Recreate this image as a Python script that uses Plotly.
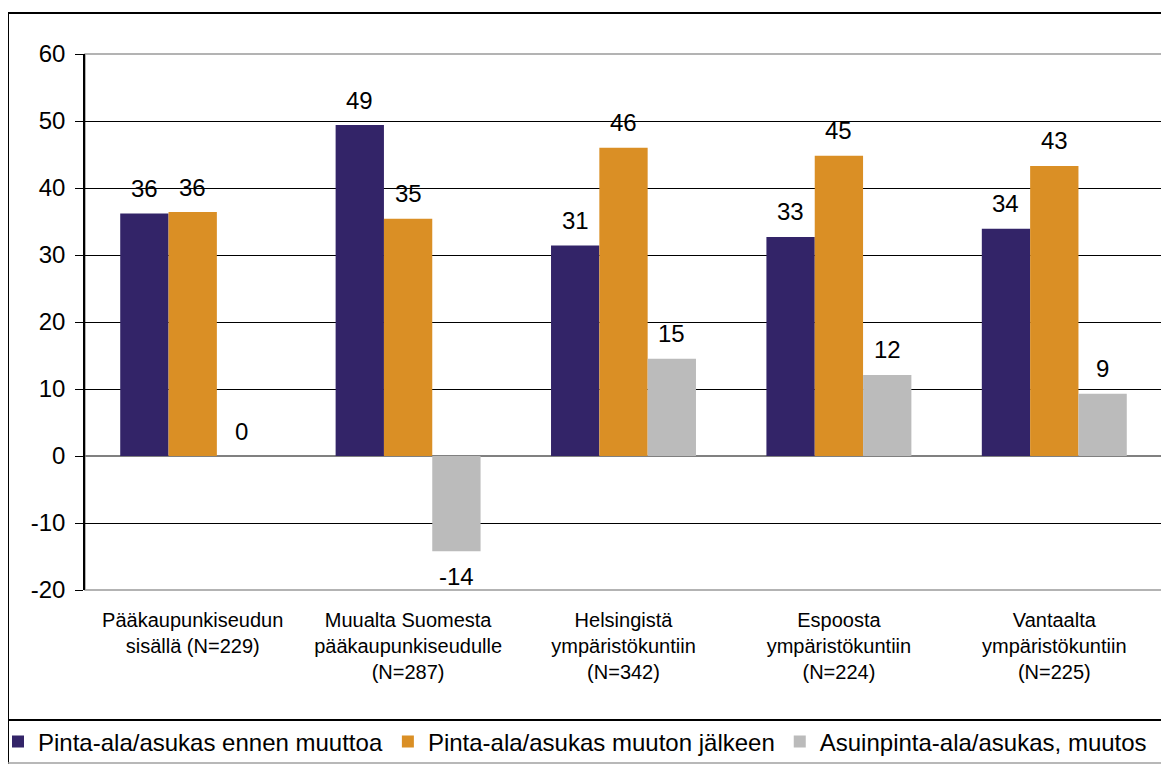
import math
import plotly.graph_objects as go

categories = [
    "Pääkaupunkiseudun<br>sisällä (N=229)",
    "Muualta Suomesta<br>pääkaupunkiseudulle<br>(N=287)",
    "Helsingistä<br>ympäristökuntiin<br>(N=342)",
    "Espoosta<br>ympäristökuntiin<br>(N=224)",
    "Vantaalta<br>ympäristökuntiin<br>(N=225)",
]
series_names = [
    "Pinta-ala/asukas ennen muuttoa",
    "Pinta-ala/asukas muuton jälkeen",
    "Asuinpinta-ala/asukas, muutos",
]
before_move = [36.2, 49.4, 31.4, 32.7, 33.9]
after_move = [36.4, 35.4, 46.0, 44.8, 43.3]
change = [0.0, -14.2, 14.5, 12.1, 9.3]
y_ticks = [-20, -10, 0, 10, 20, 30, 40, 50, 60]
y_tick_labels = [str(t) for t in y_ticks]

colors = ["#332468", "#DA8F25", "#BBBBBB"]
series_values = [before_move, after_move, change]

FONT = "Liberation Sans, Arial, sans-serif"
BARGAP = 0.327

fig = go.Figure()
for name, vals, col in zip(series_names, series_values, colors):
    fig.add_trace(go.Bar(
        x=categories, y=vals, name=name,
        marker=dict(color=col, line=dict(width=0)),
        hoverinfo="skip",
    ))

# data labels placed via the axes (category index + group offset)
w = (1 - BARGAP) / 3
annotations = []
for j, vals in enumerate(series_values):
    for i, v in enumerate(vals):
        label = str(int(math.floor(v + 0.5)))
        annotations.append(dict(
            x=i + (j - 1) * w, y=v, xref="x", yref="y",
            text=label, showarrow=False,
            yshift=25 if v >= 0 else -25,
            yanchor="middle", xanchor="center",
            font=dict(family=FONT, size=24, color="#000000"),
        ))

# the page body adds an 8px offset; work in screen pixels and subtract it
OFF = 8
W, H = 1169 - OFF, 764 - OFF
L, R, T, B = 85 - OFF, 1162 - OFF, 54 - OFF, 590 - OFF
def px(x):  # screen x -> paper
    return (x - OFF - L) / (R - L)
def py(y):  # screen y -> paper
    return (B - (y - OFF)) / (B - T)

shapes = [
    # plot area border (gray)
    dict(type="rect", xref="paper", yref="paper", x0=0, x1=1, y0=0, y1=1,
         line=dict(color="#9A9A9A", width=1.5), layer="between"),
    # outer chart frame
    dict(type="rect", xref="paper", yref="paper", x0=px(8), x1=px(1180),
         y0=py(720), y1=py(13), line=dict(color="#000000", width=2)),
    # legend strip left edge and bottom
    dict(type="line", xref="paper", yref="paper", x0=px(8), x1=px(8),
         y0=py(720), y1=py(766), line=dict(color="#000000", width=2)),
    dict(type="line", xref="paper", yref="paper", x0=px(8), x1=px(1180),
         y0=py(763), y1=py(763), line=dict(color="#A0A0A0", width=1.5)),
]

fig.update_layout(
    width=W, height=H,
    margin=dict(l=L, r=W - R, t=T, b=H - B, autoexpand=False),
    paper_bgcolor="white", plot_bgcolor="white",
    barmode="group", bargap=BARGAP, bargroupgap=0,
    font=dict(family=FONT, color="#000000"),
    showlegend=True,
    legend=dict(
        orientation="h", x=px(-2), xanchor="left", y=py(742), yanchor="middle",
        font=dict(family=FONT, size=24, color="#000000"),
        bgcolor="rgba(0,0,0,0)", borderwidth=0,
        traceorder="normal",
    ),
    xaxis=dict(
        type="category", range=[-0.5, 4.5],
        showgrid=False, zeroline=False,
        showline=False, ticks="",
        tickfont=dict(family=FONT, size=20, color="#000000"),
        ticklabelstandoff=16,
    ),
    xaxis2=dict(
        overlaying="x", anchor="free", position=20 / 80,
        range=[-0.5, 4.5], tickvals=[0.5, 1.5, 2.5, 3.5],
        ticks="outside", ticklen=6, tickcolor="#808080", tickwidth=1.5,
        showticklabels=False, showgrid=False, zeroline=False, showline=False,
    ),
    yaxis=dict(
        range=[-20, 60], tickvals=y_ticks, ticktext=y_tick_labels,
        showgrid=True, gridcolor="#000000", gridwidth=1.2,
        zeroline=True, zerolinecolor="#808080", zerolinewidth=2,
        showline=True, linecolor="#000000", linewidth=1.5,
        ticks="outside", ticklen=8, tickcolor="#000000", tickwidth=1.2,
        tickfont=dict(family=FONT, size=24, color="#000000"),
        ticklabelstandoff=5,
    ),
    annotations=annotations,
    shapes=shapes,
)

fig.write_html("out.html")
